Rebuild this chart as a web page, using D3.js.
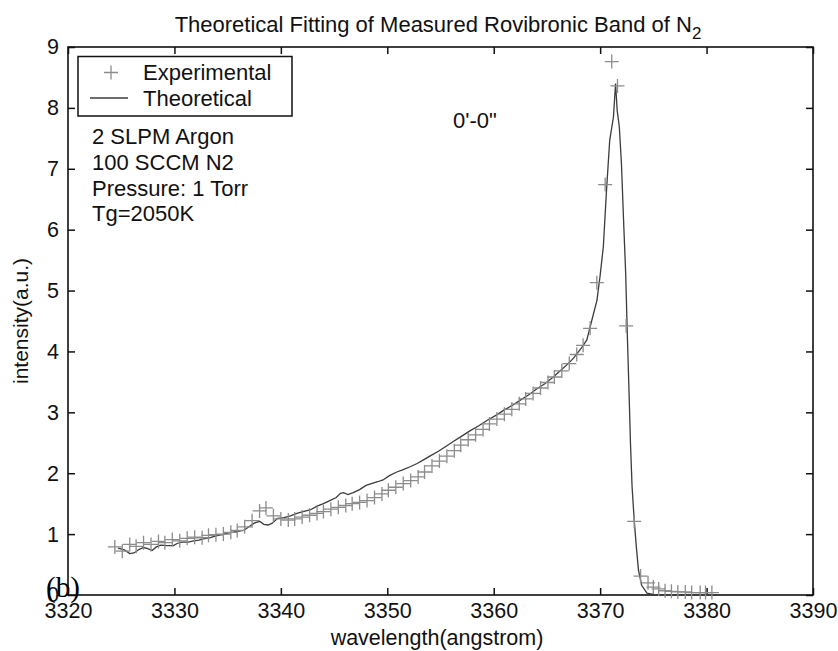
<!DOCTYPE html>
<html>
<head>
<meta charset="utf-8">
<script src="https://cdn.jsdelivr.net/npm/d3@7"></script>
<style>
body { margin: 0; background: #fff; }
svg { font-family: "Liberation Sans", Arial, sans-serif; display: block; }
</style>
</head>
<body>
<div id="chart"></div>
<script>
// measured points (crosses)
const expWavelength = [3324.4, 3325.1, 3325.8, 3326.4, 3327.1, 3327.8, 3328.5, 3329.1, 3329.8, 3330.5,
    3331.2, 3331.9, 3332.6, 3333.2, 3333.9, 3334.6, 3335.3, 3335.9, 3336.6, 3337.3,
    3338.0, 3338.6, 3339.3, 3340.0, 3340.7, 3341.3, 3342.0, 3342.7, 3343.4, 3344.0,
    3344.7, 3345.4, 3346.1, 3346.7, 3347.4, 3348.1, 3348.8, 3349.5, 3350.1, 3350.8,
    3351.5, 3352.2, 3352.9, 3353.5, 3354.2, 3354.9, 3355.6, 3356.3, 3356.9, 3357.6,
    3358.3, 3359.0, 3359.6, 3360.3, 3361.0, 3361.7, 3362.4, 3363.0, 3363.7, 3364.4,
    3365.1, 3365.7, 3366.4, 3367.1, 3367.8, 3368.4, 3369.06, 3369.69, 3370.47, 3371.09,
    3371.63, 3372.44, 3373.2, 3373.8, 3374.5, 3375.0, 3375.5, 3376.1, 3376.7, 3377.3,
    3378.0, 3378.6, 3379.4, 3379.9, 3380.5]
const expIntensity = [0.79, 0.72, 0.83, 0.80, 0.86, 0.83, 0.88, 0.86, 0.91, 0.89,
    0.93, 0.95, 0.94, 0.98, 0.99, 1.00, 1.03, 1.06, 1.12, 1.22,
    1.38, 1.43, 1.30, 1.25, 1.23, 1.25, 1.28, 1.31, 1.34, 1.37,
    1.41, 1.44, 1.47, 1.50, 1.52, 1.55, 1.60, 1.66, 1.72, 1.77,
    1.83, 1.88, 1.94, 2.02, 2.12, 2.20, 2.28, 2.37, 2.46, 2.55,
    2.63, 2.72, 2.81, 2.89, 2.97, 3.05, 3.14, 3.22, 3.31, 3.40,
    3.49, 3.58, 3.68, 3.80, 3.95, 4.10, 4.38, 5.13, 6.74, 8.76,
    8.36, 4.42, 1.21, 0.31, 0.20, 0.13, 0.10, 0.07, 0.06, 0.05,
    0.05, 0.04, 0.04, 0.04, 0.04]

// fitted curve (line)
const theoWavelength = [3324.7, 3325.3, 3325.8, 3326.2, 3326.7, 3327.1, 3327.5, 3327.9, 3328.3, 3328.7,
    3329.3, 3329.9, 3330.3, 3330.7, 3331.3, 3331.8, 3332.3, 3332.7, 3333.3, 3333.9,
    3334.5, 3335.1, 3335.8, 3336.5, 3337.0, 3337.5, 3338.0, 3338.4, 3338.8, 3339.2,
    3339.7, 3340.3, 3340.9, 3341.5, 3342.1, 3342.8, 3343.4, 3344.0, 3344.6, 3345.2,
    3345.6, 3345.9, 3346.3, 3346.8, 3347.4, 3348.0, 3348.5, 3349.1, 3349.6, 3350.2,
    3350.9, 3351.5, 3352.2, 3352.8, 3353.4, 3354.0, 3354.8, 3355.5, 3356.2, 3357.0,
    3357.8, 3358.6, 3359.4, 3360.2, 3361.0, 3361.8, 3362.5, 3363.3, 3364.0, 3364.8,
    3365.6, 3366.3, 3367.0, 3367.5, 3367.9, 3368.3, 3368.75, 3369.2, 3369.7, 3370.0,
    3370.3, 3370.6, 3370.9, 3371.25, 3371.45, 3371.6, 3371.8, 3372.0, 3372.2, 3372.4,
    3372.55, 3372.7, 3372.85, 3373.0, 3373.2, 3373.4, 3373.6, 3373.9, 3374.4, 3375.0,
    3376.0, 3378.0, 3381.0]
const theoIntensity = [0.77, 0.74, 0.68, 0.69, 0.75, 0.78, 0.76, 0.73, 0.79, 0.82,
    0.81, 0.81, 0.85, 0.87, 0.87, 0.89, 0.90, 0.92, 0.94, 0.97,
    0.99, 1.02, 1.04, 1.06, 1.12, 1.18, 1.21, 1.16, 1.15, 1.18,
    1.26, 1.27, 1.30, 1.34, 1.37, 1.40, 1.46, 1.50, 1.55, 1.60,
    1.67, 1.68, 1.65, 1.68, 1.73, 1.80, 1.83, 1.86, 1.89, 1.96,
    2.02, 2.06, 2.11, 2.16, 2.22, 2.28, 2.36, 2.44, 2.52, 2.61,
    2.70, 2.78, 2.87, 2.95, 3.04, 3.12, 3.20, 3.29, 3.38, 3.47,
    3.58, 3.69, 3.80, 3.89, 3.98, 4.07, 4.19, 4.50, 4.84, 5.25,
    5.72, 6.65, 7.47, 7.85, 8.40, 7.96, 7.69, 7.09, 6.16, 5.28,
    4.30, 3.42, 2.49, 1.78, 1.23, 0.79, 0.41, 0.16, 0.03, 0.01,
    0.00, 0.00, 0.00]

const xTicks = [3320, 3330, 3340, 3350, 3360, 3370, 3380, 3390]
const yTicks = [0, 1, 2, 3, 4, 5, 6, 7, 8, 9]
const legendLabels = ["Experimental", "Theoretical"]
const infoLines = ["2 SLPM Argon", "100 SCCM N2", "Pressure: 1 Torr", "Tg=2050K"]

const width = 838
const height = 651
const margin = {top: 47, right: 25, bottom: 56, left: 68}
const w = width - margin.left - margin.right
const h = height - margin.top - margin.bottom

const lineColor = "#3c3c3c"
const markColor = "#8c8c8c"

const svg = d3.select('#chart')
    .append('svg')
    .attr('width', width)
    .attr('height', height)

const g = svg.append('g')
    .attr('transform', `translate(${margin.left},${margin.top})`)

const xScale = d3.scaleLinear().domain([3320, 3390]).range([0, w])
const yScale = d3.scaleLinear().domain([0, 9]).range([h, 0])

const expData = expWavelength.map((d, i) => ({x: d, y: expIntensity[i]}))
const theoData = theoWavelength.map((d, i) => ({x: d, y: theoIntensity[i]}))

const plus = "M-7,0H7M0,-7V7"

// axes, ticks pointing inward
g.append('g')
    .attr('transform', `translate(0,${h})`)
    .call(d3.axisBottom(xScale).tickValues(xTicks).tickFormat(d3.format('d'))
        .tickSizeInner(-7).tickSizeOuter(0).tickPadding(8))
g.append('g')
    .call(d3.axisLeft(yScale).tickValues(yTicks).tickFormat(d3.format('d'))
        .tickSizeInner(-7).tickSizeOuter(0).tickPadding(9))
g.append('g')
    .call(d3.axisTop(xScale).tickValues(xTicks).tickSizeInner(-7).tickSizeOuter(0).tickFormat(''))
g.append('g')
    .attr('transform', `translate(${w},0)`)
    .call(d3.axisRight(yScale).tickValues(yTicks).tickSizeInner(-7).tickSizeOuter(0).tickFormat(''))

g.selectAll('.domain').remove()
g.selectAll('.tick line').attr('stroke', '#111').attr('stroke-width', 1.5)
g.selectAll('.tick text')
    .attr('font-family', '"Liberation Sans", Arial, sans-serif')
    .attr('font-size', 21.5)
    .attr('fill', '#111')

g.append('rect')
    .attr('width', w)
    .attr('height', h)
    .attr('fill', 'none')
    .attr('stroke', '#111')
    .attr('stroke-width', 1.6)

// data
g.append('path')
    .datum(theoData)
    .attr('fill', 'none')
    .attr('stroke', lineColor)
    .attr('stroke-width', 1.3)
    .attr('d', d3.line().x(d => xScale(d.x)).y(d => yScale(d.y)))

g.selectAll('.mark')
    .data(expData)
    .join('path')
    .attr('class', 'mark')
    .attr('d', plus)
    .attr('transform', d => `translate(${xScale(d.x)},${yScale(d.y)})`)
    .attr('fill', 'none')
    .attr('stroke', markColor)
    .attr('stroke-width', 1.3)

// legend
const legend = svg.append('g')
legend.append('rect')
    .attr('x', 78).attr('y', 56.5)
    .attr('width', 214).attr('height', 59.5)
    .attr('fill', '#fff')
    .attr('stroke', '#111')
    .attr('stroke-width', 1.5)
legend.append('path')
    .attr('d', plus)
    .attr('transform', 'translate(111,72.5)')
    .attr('fill', 'none')
    .attr('stroke', markColor)
    .attr('stroke-width', 1.3)
legend.append('line')
    .attr('x1', 90).attr('x2', 128)
    .attr('y1', 98).attr('y2', 98)
    .attr('stroke', lineColor)
    .attr('stroke-width', 1.3)
legend.selectAll('text')
    .data(legendLabels)
    .join('text')
    .attr('x', 143)
    .attr('y', (d, i) => 80 + i * 26)
    .attr('font-size', 22)
    .attr('fill', '#111')
    .text(d => d)

svg.append('g')
    .selectAll('text')
    .data(infoLines)
    .join('text')
    .attr('x', 92)
    .attr('y', (d, i) => 144 + i * 25.8)
    .attr('font-size', 22)
    .attr('fill', '#111')
    .text(d => d)

svg.append('text')
    .attr('x', 453)
    .attr('y', 128)
    .attr('font-size', 22)
    .attr('fill', '#111')
    .text("0'-0\"")

// title with subscript
const title = svg.append('text')
    .attr('x', 438)
    .attr('y', 32)
    .attr('text-anchor', 'middle')
    .attr('font-size', 22)
    .attr('fill', '#111')
title.append('tspan').text('Theoretical Fitting of Measured Rovibronic Band of N')
title.append('tspan').attr('dy', 7).attr('font-size', 17).text('2')

svg.append('text')
    .attr('x', 437)
    .attr('y', 645)
    .attr('text-anchor', 'middle')
    .attr('font-size', 21.5)
    .attr('fill', '#111')
    .text('wavelength(angstrom)')

svg.append('text')
    .attr('transform', `translate(28,${margin.top + h / 2}) rotate(-90)`)
    .attr('text-anchor', 'middle')
    .attr('font-size', 21)
    .attr('fill', '#111')
    .text('intensity(a.u.)')

svg.append('text')
    .attr('x', 46)
    .attr('y', 597)
    .attr('font-family', '"Liberation Serif", "Times New Roman", serif')
    .attr('font-size', 29)
    .attr('fill', '#000')
    .text('(b)')
</script>
</body>
</html>
